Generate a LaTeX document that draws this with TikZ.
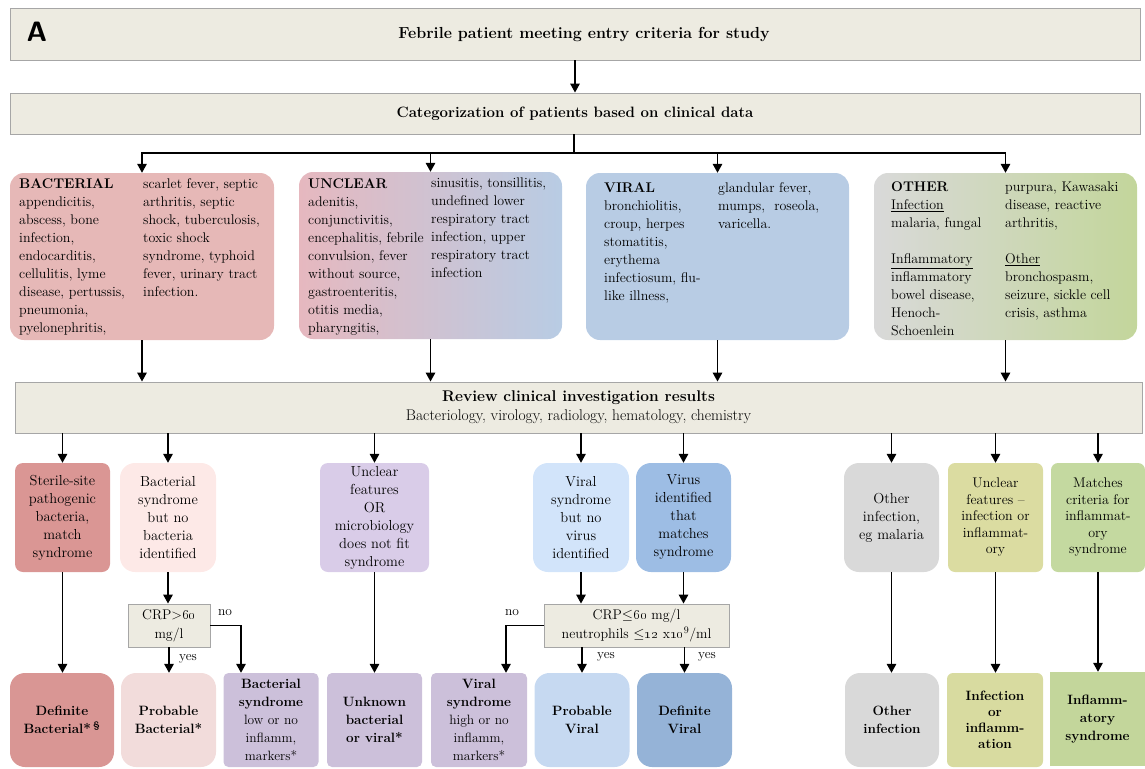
\documentclass[tikz,border=0pt]{standalone}
\usetikzlibrary{arrows.meta}
\definecolor{beigefill}{HTML}{EDEBE1}
\definecolor{beigeline}{HTML}{A6A6A6}
\definecolor{bactfill}{HTML}{E6B8B7}
\definecolor{unclL}{HTML}{E6B8BF}
\definecolor{unclR}{HTML}{B8CCE4}
\definecolor{viralfill}{HTML}{B8CCE4}
\definecolor{otherL}{HTML}{D9D9D9}
\definecolor{otherR}{HTML}{C3D69B}
\definecolor{mA}{HTML}{DA9694}
\definecolor{mB}{HTML}{FDE9E7}
\definecolor{mC}{HTML}{D9CCE8}
\definecolor{mD}{HTML}{D2E4FA}
\definecolor{mE}{HTML}{9DBDE4}
\definecolor{mF}{HTML}{D9D9D9}
\definecolor{mG}{HTML}{DBDCA1}
\definecolor{mH}{HTML}{C4D9A0}
\definecolor{bA}{HTML}{D99694}
\definecolor{bB}{HTML}{F2DCDB}
\definecolor{bC}{HTML}{CCC0DA}
\definecolor{bD}{HTML}{C6D9F1}
\definecolor{bE}{HTML}{95B3D7}
\definecolor{bF}{HTML}{D9D9D9}
\definecolor{bG}{HTML}{D8DBA0}
\definecolor{bH}{HTML}{C3D69B}
\begin{document}
\begin{tikzpicture}[x=1pt,y=-1pt,
  arr/.style={line width=1.6pt,-{Triangle[length=9pt,width=9.5pt]}},
  plain/.style={line width=1.6pt},
  headbox/.style={draw=beigeline,line width=0.9pt,fill=beigefill,inner sep=0pt},
  catbox/.style={rounded corners=14pt,inner sep=0pt,minimum height=167pt},
  cattext/.style={anchor=north west,inner sep=0pt,align=left,font=\fontsize{14}{18}\selectfont},
  midbox/.style={inner sep=0pt,align=center,minimum height=109pt,font=\fontsize{14.5}{18}\selectfont},
  botbox/.style={inner sep=0pt,align=center,minimum height=94pt,font=\fontsize{13.5}{18}\selectfont\bfseries},
  crpbox/.style={draw=beigeline,line width=0.9pt,fill=beigefill,inner sep=0pt,align=center,minimum height=43pt,font=\fontsize{14}{19}\selectfont},
  lbl/.style={inner sep=0pt,font=\fontsize{13.5}{14}\selectfont}
]
\useasboundingbox (0,0) rectangle (1145,768);

% top boxes
\node[headbox,minimum width=1130pt,minimum height=52pt] (entry) at (575,34) {};
\node[inner sep=0pt,font=\fontsize{16}{18}\selectfont\bfseries] (entrytext) at (584,35) {Febrile patient meeting entry criteria for study};
\node[inner sep=0pt,font=\sffamily\bfseries\fontsize{28}{28}\selectfont] (lettera) at (37,32) {A};
\node[headbox,minimum width=1130pt,minimum height=41pt,font=\fontsize{15}{17}\selectfont\bfseries] (categ) at (575,113.5) {Categorization of patients based on clinical data};
\draw[arr] (entry.south -| categ.north) -- (categ.north);
\coordinate (split) at (574,153);

% category boxes
\node[catbox,fill=bactfill,minimum width=264pt] (bact) at (142,256.5) {};
\node[catbox,left color=unclL,right color=unclR,minimum width=263pt] (uncl) at (430.5,255.5) {};
\node[catbox,fill=viralfill,minimum width=263pt] (viral) at (717.5,256.5) {};
\node[catbox,left color=otherL,right color=otherR,minimum width=263pt] (other) at (1005.5,256.5) {};

\node[cattext] (bactL) at (19,178) {\textbf{BACTERIAL}\\appendicitis,\\abscess, bone\\infection,\\endocarditis,\\cellulitis, lyme\\disease, pertussis,\\pneumonia,\\pyelonephritis,};
\node[cattext] (bactR) at (143,178) {scarlet fever, septic\\arthritis, septic\\shock, tuberculosis,\\toxic shock\\syndrome, typhoid\\fever, urinary tract\\infection.};
\node[cattext] (unclL) at (308,178) {\textbf{UNCLEAR}\\adenitis,\\conjunctivitis,\\encephalitis, febrile\\convulsion, fever\\without source,\\gastroenteritis,\\otitis media,\\pharyngitis,};
\node[cattext] (unclR) at (431,178) {sinusitis, tonsillitis,\\undefined lower\\respiratory tract\\infection, upper\\respiratory tract\\infection};
\node[cattext] (viralL) at (604,182) {\textbf{VIRAL}\\bronchiolitis,\\croup, herpes\\stomatitis,\\erythema\\infectiosum, flu-\\like illness,};
\node[cattext] (viralR) at (718,182) {glandular fever,\\mumps,\ \ roseola,\\varicella.};
\node[cattext] (otherL) at (891,182) {\textbf{OTHER}\\\underline{Infection}\\malaria, fungal\\[18pt]\underline{Inflammatory}\\inflammatory\\bowel disease,\\Henoch-\\Schoenlein};
\node[cattext] (otherR) at (1005,182) {purpura, Kawasaki\\disease, reactive\\arthritis,\\[18pt]\underline{Other}\\bronchospasm,\\seizure, sickle cell\\crisis, asthma};

\draw[plain] (categ.south -| split) -- (split);
\draw[arr] (split) -| (bact.north);
\draw[arr] (split) -| (uncl.north);
\draw[arr] (split) -| (viral.north);
\draw[arr] (split) -| (other.north);

% review box
\node[headbox,minimum width=1127pt,minimum height=51pt,align=center,font=\fontsize{15.5}{19}\selectfont] (review) at (578.5,407.5) {\textbf{Review clinical investigation results}\\Bacteriology, virology, radiology, hematology, chemistry};
\foreach \c in {bact,uncl,viral,other}{
  \draw[arr] (\c.south) -- (\c.south |- review.north);
}

% middle boxes
\node[midbox,fill=mA,rounded corners=8pt,minimum width=95pt] (m1) at (62.5,517.5) {Sterile-site\\pathogenic\\bacteria,\\match\\syndrome};
\node[midbox,fill=mB,rounded corners=15pt,minimum width=96pt] (m2) at (168,517.5) {Bacterial\\syndrome\\but no\\bacteria\\identified};
\node[midbox,fill=mC,rounded corners=8pt,minimum width=109pt] (m3) at (374.5,517.5) {Unclear\\features\\OR\\microbiology\\does not fit\\syndrome};
\node[midbox,fill=mD,rounded corners=15pt,minimum width=96pt] (m4) at (581,517.5) {Viral\\syndrome\\but no\\virus\\identified};
\node[midbox,fill=mE,rounded corners=15pt,minimum width=95pt] (m5) at (683.5,517.5) {Virus\\identified\\that\\matches\\syndrome};
\node[midbox,fill=mF,rounded corners=15pt,minimum width=95pt] (m6) at (891.5,517.5) {Other\\infection,\\eg malaria};
\node[midbox,fill=mG,rounded corners=7pt,minimum width=95pt,font=\fontsize{14}{16.5}\selectfont] (m7) at (995.5,517.5) {Unclear\\features --\\infection or\\inflammat-\\ory};
\node[midbox,fill=mH,rounded corners=7pt,minimum width=94pt,font=\fontsize{14}{16.5}\selectfont] (m8) at (1098,517.5) {Matches\\criteria for\\inflammat-\\ory\\syndrome};
\foreach \m in {m1,m2,m3,m4,m5,m6,m7,m8}{
  \draw[arr] (\m.north |- review.south) -- (\m.north);
}

% CRP boxes
\node[crpbox,minimum width=82pt] (crp1) at (169,625.5) {CRP{\textgreater}\oldstylenums{60}\\mg/l};
\node[crpbox,minimum width=185pt] (crp2) at (636.5,625.5) {CRP$\leq$\oldstylenums{60} mg/l\\neutrophils $\leq$\oldstylenums{12} x\oldstylenums{10}$^{9}$/ml};

% bottom boxes
\node[botbox,fill=bA,rounded corners=15pt,minimum width=104pt] (b1) at (62,720) {Definite\\Bacterial*\,\textsuperscript{\S}};
\node[botbox,fill=bB,rounded corners=15pt,minimum width=95pt] (b2) at (168.5,720) {Probable\\Bacterial*};
\node[botbox,fill=bC,rounded corners=5pt,minimum width=95pt,font=\fontsize{13.5}{18}\selectfont] (b3) at (271,720) {\textbf{Bacterial}\\\textbf{syndrome}\\low or no\\inflamm,\\markers*};
\node[botbox,fill=bC,rounded corners=5pt,minimum width=95pt] (b4) at (374.5,720) {Unknown\\bacterial\\or viral*};
\node[botbox,fill=bC,rounded corners=5pt,minimum width=96pt,font=\fontsize{13.5}{18}\selectfont] (b5) at (479,720) {\textbf{Viral}\\\textbf{syndrome}\\high or no\\inflamm,\\markers*};
\node[botbox,fill=bD,rounded corners=15pt,minimum width=95pt] (b6) at (582,720) {Probable\\Viral};
\node[botbox,fill=bE,rounded corners=15pt,minimum width=95pt] (b7) at (684.5,720) {Definite\\Viral};
\node[botbox,fill=bF,rounded corners=15pt,minimum width=94pt] (b8) at (892,720) {Other\\infection};
\node[botbox,fill=bG,rounded corners=6pt,minimum width=96pt,font=\fontsize{13.5}{16}\selectfont\bfseries] (b9) at (995,720) {Infection\\or\\inflamm-\\ation};
\node[botbox,fill=bH,minimum width=95pt] (b10) at (1097.5,719) {Inflamm-\\atory\\syndrome};

% connectors to bottom
\draw[arr] (m1.south) -- (m1.south |- b1.north);
\draw[arr] (m2.south) -- (m2.south |- crp1.north);
\draw[arr] (crp1.south) -- (crp1.south |- b2.north);
\draw[arr] (crp1.east) -| ([xshift=-30pt]b3.north);
\draw[arr] (m3.south) -- (m3.south |- b4.north);
\draw[arr] (m4.south) -- (m4.south |- crp2.north);
\draw[arr] (m5.south) -- (m5.south |- crp2.north);
\draw[arr] (crp2.west) -| ([xshift=27pt]b5.north);
\draw[arr] (b6.north |- crp2.south) -- (b6.north);
\draw[arr] (b7.north |- crp2.south) -- (b7.north);
\draw[arr] (m6.south) -- (m6.south |- b8.north);
\draw[arr] (m7.south) -- (m7.south |- b9.north);
\draw[arr] (m8.south) -- (m8.south |- b10.north);

% labels
\node[lbl] (no1) at (225,613) {no};
\node[lbl] (yes1) at (188,659) {yes};
\node[lbl] (no2) at (512,613) {no};
\node[lbl] (yes2) at (606,657) {yes};
\node[lbl] (yes3) at (707,657) {yes};
\end{tikzpicture}
\end{document}
